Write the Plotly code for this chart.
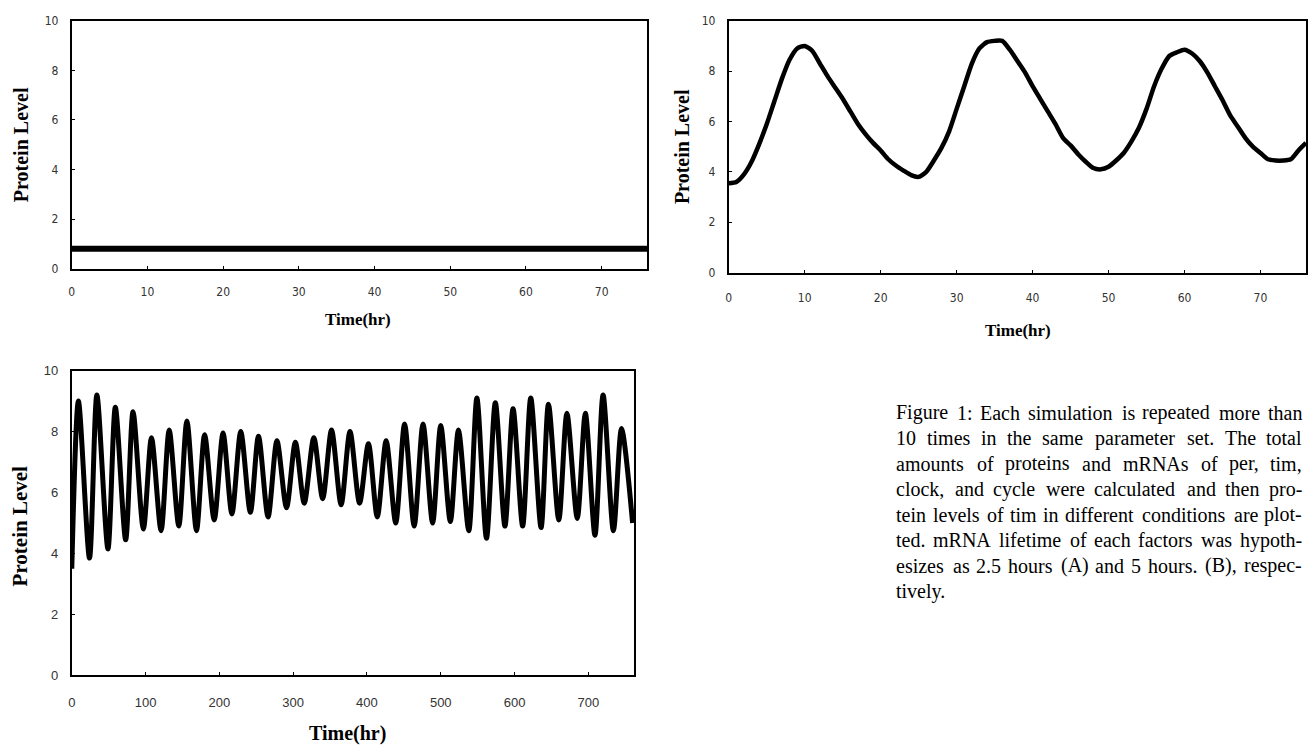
import plotly.graph_objects as go

W, H = 1311, 754

# ---------------- data ----------------
# Panel A (top-left): constant protein level
a_time = [0, 76]
a_level = [0.8, 0.8]

# Panel B (top-right): oscillation, hourly samples
b_time = list(range(0, 77))
b_level = [3.55, 3.6, 3.9, 4.4, 5.1, 5.9, 6.8, 7.7, 8.45, 8.9, 9.0, 8.8, 8.3, 7.8, 7.35,
           6.9, 6.4, 5.9, 5.5, 5.15, 4.85, 4.5, 4.25, 4.05, 3.87, 3.8, 4.0, 4.45, 4.95,
           5.6, 6.5, 7.4, 8.3, 8.9, 9.15, 9.2, 9.2, 8.85, 8.4, 7.95, 7.4, 6.9, 6.4, 5.9,
           5.35, 5.05, 4.7, 4.4, 4.15, 4.1, 4.2, 4.45, 4.75, 5.2, 5.75, 6.5, 7.4, 8.1,
           8.6, 8.75, 8.85, 8.7, 8.4, 7.95, 7.4, 6.85, 6.25, 5.8, 5.35, 5.0, 4.75, 4.5,
           4.45, 4.45, 4.5, 4.85, 5.15]

# Panel C (bottom): long run, peaks and troughs
c_time = [0, 9, 24, 34, 49, 59, 73, 83, 97, 108, 121, 132, 145, 156, 169, 180, 193,
          205, 217, 229, 242, 253, 266, 278, 291, 303, 315, 328, 340, 352, 365, 377,
          390, 402, 414, 426, 439, 451, 464, 476, 489, 500, 513, 524, 538, 549, 562,
          574, 587, 598, 611, 622, 636, 646, 660, 671, 685, 696, 709, 720, 734, 745, 760]
c_level = [3.5, 9.0, 3.85, 9.2, 4.15, 8.8, 4.45, 8.65, 4.8, 7.8, 4.75, 8.05, 4.9, 8.35,
           4.75, 7.9, 5.1, 7.95, 5.3, 8.0, 5.35, 7.85, 5.2, 7.7, 5.5, 7.65, 5.65, 7.8,
           5.8, 8.05, 5.6, 8.0, 5.65, 7.6, 5.2, 7.7, 5.0, 8.25, 4.9, 8.25, 5.0, 8.2,
           5.05, 8.05, 4.75, 9.1, 4.5, 8.95, 4.9, 8.75, 4.9, 9.1, 4.85, 8.9, 5.1, 8.6,
           5.15, 8.6, 4.6, 9.2, 4.75, 8.1, 5.0]

y_ticks = [0, 2, 4, 6, 8, 10]
ab_x_ticks = [0, 10, 20, 30, 40, 50, 60, 70]
c_x_ticks = [0, 100, 200, 300, 400, 500, 600, 700]

caption_lines = [
    "Figure 1: Each simulation is repeated more than",
    "10 times in the same parameter set. The total",
    "amounts of proteins and mRNAs of per, tim,",
    "clock, and cycle were calculated and then pro-",
    "tein levels of tim in different conditions are plot-",
    "ted. mRNA lifetime of each factors was hypoth-",
    "esizes as 2.5 hours (A) and 5 hours. (B), respec-",
    "tively.",
]

# ---------------- helpers ----------------
def px_x(p):
    return p / W

def px_y(p):
    return 1 - p / H

# approximate Times-style advance widths (per 1000 em) for justifying the caption
CW = {' ': 250, '(': 333, ')': 333, ',': 250, '-': 333, '.': 250, ':': 278,
      'A': 722, 'B': 667, 'E': 611, 'F': 556, 'N': 722, 'R': 667, 'T': 611,
      'a': 444, 'b': 500, 'c': 444, 'd': 500, 'e': 444, 'f': 333, 'g': 500, 'h': 500,
      'i': 278, 'k': 500, 'l': 278, 'm': 778, 'n': 500, 'o': 500, 'p': 500, 'r': 333,
      's': 389, 't': 278, 'u': 500, 'v': 500, 'w': 722, 'y': 500}

def text_w(s, size):
    return sum(CW.get(ch, 500) for ch in s) * size / 1000.0 * 1.04 + 2

# ---------------- figure ----------------
fig = go.Figure()
fig.add_trace(go.Scatter(x=a_time, y=a_level, mode="lines",
                         line=dict(color="black", width=6), xaxis="x", yaxis="y",
                         showlegend=False))
fig.add_trace(go.Scatter(x=b_time, y=b_level, mode="lines",
                         line=dict(color="black", width=4.5, shape="spline", smoothing=0.6),
                         xaxis="x2", yaxis="y2", showlegend=False))
fig.add_trace(go.Scatter(x=c_time, y=c_level, mode="lines",
                         line=dict(color="black", width=5, shape="spline", smoothing=0.8),
                         xaxis="x3", yaxis="y3", showlegend=False))

tick_font_top = dict(family="Liberation Sans Narrow, DejaVu Sans Condensed, Arial Narrow, sans-serif",
                     size=12, color="#333")
tick_font_bot = dict(family="Liberation Sans, Arial, sans-serif", size=13, color="#333")

def xaxis(dom, anchor, rng, ticks, font, standoff):
    return dict(domain=dom, anchor=anchor, range=rng, tickvals=ticks, ticks="inside",
                ticklen=3, tickcolor="black", showline=True, mirror=True, linecolor="black",
                linewidth=2, showgrid=False, zeroline=False, tickfont=font,
                ticklabelstandoff=standoff)

def yaxis(dom, anchor, font, standoff):
    return dict(domain=dom, anchor=anchor, range=[0, 10], tickvals=y_ticks, ticks="inside",
                ticklen=3, tickcolor="black", showline=True, mirror=True, linecolor="black",
                linewidth=2, showgrid=False, zeroline=False, tickfont=font,
                ticklabelstandoff=standoff)

fig.update_layout(
    width=W, height=H, margin=dict(l=0, r=0, t=0, b=0),
    paper_bgcolor="white", plot_bgcolor="white",
    xaxis=xaxis([px_x(68), px_x(645)], "y", [0, 76], ab_x_ticks, tick_font_top, 11),
    yaxis=yaxis([px_y(267), px_y(14)], "x", tick_font_top, 9),
    xaxis2=xaxis([px_x(727), px_x(1306)], "y2", [0, 76], ab_x_ticks, tick_font_top, 13),
    yaxis2=yaxis([px_y(271), px_y(14)], "x2", tick_font_top, 9),
    xaxis3=xaxis([px_x(68), px_x(632)], "y3", [0, 762], c_x_ticks, tick_font_bot, 14),
    yaxis3=yaxis([px_y(682), px_y(371)], "x3", tick_font_bot, 9),
)

title_font = dict(family="Liberation Serif, Times New Roman, serif", color="black")
ann = []
def add_title(text, x, y, size, angle=0):
    ann.append(dict(text="<b>%s</b>" % text, x=px_x(x), y=px_y(y), xref="paper", yref="paper",
                    showarrow=False, textangle=angle, xanchor="center", yanchor="middle",
                    font=dict(size=size, **title_font)))

add_title("Protein Level", 17, 140, 20, -90)
add_title("Time(hr)", 355, 319, 17)
add_title("Protein Level", 680, 142, 20, -90)
add_title("Time(hr)", 1017, 330, 17)
add_title("Protein Level", 17, 530, 21, -90)
add_title("Time(hr)", 345, 741, 20)

# caption, justified word by word between x0 and x1
cap_size = 20
x0, x1 = 893, 1304
cap_font = dict(family="Liberation Serif, Times New Roman, serif", size=cap_size, color="black")
for i, line in enumerate(caption_lines):
    yl = px_y(414 + 26 * i)
    words = line.split(" ")
    last = (i == len(caption_lines) - 1)
    if last or len(words) == 1:
        ann.append(dict(text=line, x=px_x(x0), y=yl, xref="paper", yref="paper",
                        showarrow=False, xanchor="left", yanchor="middle", font=cap_font))
        continue
    widths = [text_w(w, cap_size) for w in words]
    gap = (x1 - x0 - sum(widths)) / (len(words) - 1)
    xpos = x0
    for j, w in enumerate(words):
        if j == len(words) - 1:
            ann.append(dict(text=w, x=px_x(x1), y=yl, xref="paper", yref="paper",
                            showarrow=False, xanchor="right", yanchor="middle", font=cap_font))
        else:
            ann.append(dict(text=w, x=px_x(xpos), y=yl, xref="paper", yref="paper",
                            showarrow=False, xanchor="left", yanchor="middle", font=cap_font))
        xpos += widths[j] + gap

fig.update_layout(annotations=ann)
fig.write_html("out.html", config={"displayModeBar": False},
               post_script="document.body.style.margin='0px';")
